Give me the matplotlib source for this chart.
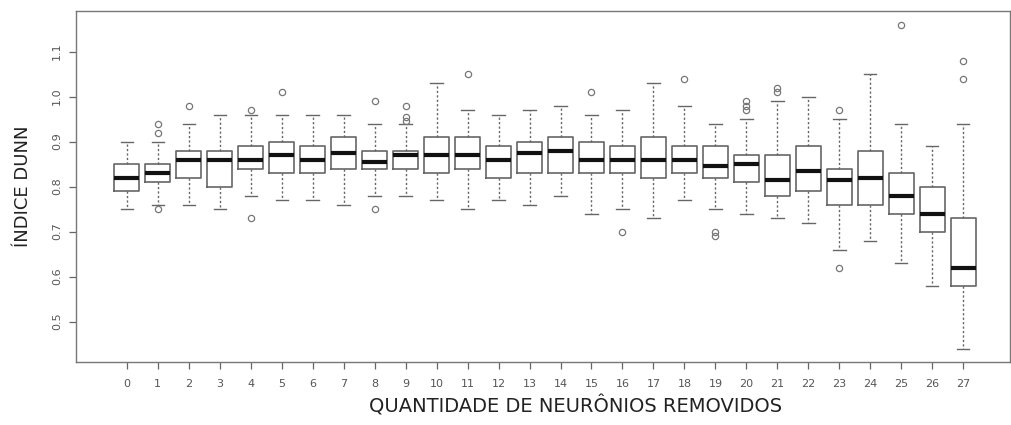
import matplotlib
matplotlib.use("Agg")
import matplotlib.pyplot as plt

plt.rcParams['font.family'] = ['DejaVu Sans']

# Number of removed neurons (one box per count)
removed = list(range(28))

# Dunn index summary statistics for each count
whisker_low = [0.75, 0.76, 0.76, 0.75, 0.78, 0.77, 0.77, 0.76, 0.78, 0.78,
               0.77, 0.75, 0.77, 0.76, 0.78, 0.74, 0.75, 0.73, 0.77, 0.75,
               0.74, 0.73, 0.72, 0.66, 0.68, 0.63, 0.58, 0.44]
q1 = [0.79, 0.81, 0.82, 0.80, 0.84, 0.83, 0.83, 0.84, 0.84, 0.84,
      0.83, 0.84, 0.82, 0.83, 0.83, 0.83, 0.83, 0.82, 0.83, 0.82,
      0.81, 0.78, 0.79, 0.76, 0.76, 0.74, 0.70, 0.58]
median = [0.82, 0.83, 0.86, 0.86, 0.86, 0.87, 0.86, 0.875, 0.855, 0.87,
          0.87, 0.87, 0.86, 0.875, 0.88, 0.86, 0.86, 0.86, 0.86, 0.845,
          0.85, 0.815, 0.835, 0.815, 0.82, 0.78, 0.74, 0.62]
q3 = [0.85, 0.85, 0.88, 0.88, 0.89, 0.90, 0.89, 0.91, 0.88, 0.88,
      0.91, 0.91, 0.89, 0.90, 0.91, 0.90, 0.89, 0.91, 0.89, 0.89,
      0.87, 0.87, 0.89, 0.84, 0.88, 0.83, 0.80, 0.73]
whisker_high = [0.90, 0.90, 0.94, 0.96, 0.96, 0.96, 0.96, 0.96, 0.94, 0.94,
                1.03, 0.97, 0.96, 0.97, 0.98, 0.96, 0.97, 1.03, 0.98, 0.94,
                0.95, 0.99, 1.00, 0.95, 1.05, 0.94, 0.89, 0.94]
outliers = [[], [0.94, 0.92, 0.75], [0.98], [], [0.97, 0.73], [1.01], [], [],
            [0.99, 0.75], [0.98, 0.955, 0.945], [], [1.05], [], [], [],
            [1.01], [0.70], [], [1.04], [0.70, 0.69], [0.99, 0.98, 0.97],
            [1.02, 1.01], [], [0.97, 0.62], [], [1.16], [], [1.08, 1.04]]

y_ticks = [0.5, 0.6, 0.7, 0.8, 0.9, 1.0, 1.1]
y_tick_labels = ["0.5", "0.6", "0.7", "0.8", "0.9", "1.0", "1.1"]

stats = [dict(whislo=lo, q1=a, med=m, q3=b, whishi=hi, fliers=f)
         for lo, a, m, b, hi, f in zip(whisker_low, q1, median, q3,
                                       whisker_high, outliers)]

W, H = 1012, 425
fig = plt.figure(figsize=(W / 100, H / 100), dpi=100)
ax = fig.add_axes([76 / W, 1 - 362 / H, (1010 - 76) / W, (362 - 11) / H])

edge = '#666666'
ax.bxp(stats, positions=removed, widths=0.8, showfliers=True,
       boxprops=dict(color=edge, linewidth=1.2),
       medianprops=dict(color='#111111', linewidth=3.0),
       whiskerprops=dict(color=edge, linewidth=1.0, linestyle=(0, (1.6, 1.6))),
       capprops=dict(color=edge, linewidth=1.0),
       capwidths=0.4,
       flierprops=dict(marker='o', markersize=4.5, markerfacecolor='none',
                       markeredgecolor='#777777', markeredgewidth=0.9))

ax.set_xlim(-1.64, 28.51)
ax.set_ylim(0.41, 1.19)

ax.set_xticks(removed)
ax.set_xticklabels([str(r) for r in removed])
ax.set_yticks(y_ticks)
ax.set_yticklabels(y_tick_labels, rotation=90, va='center')

ax.tick_params(axis='both', colors='#666666', labelcolor='#555555',
               labelsize=8, length=5, width=0.9)
ax.tick_params(axis='x', pad=7.5)
ax.tick_params(axis='y', pad=5)

for s in ax.spines.values():
    s.set_color('#777777')
    s.set_linewidth(1.0)

fig.text(576 / W, 1 - 406 / H, "QUANTIDADE DE NEURÔNIOS REMOVIDOS",
         ha='center', va='center', fontsize=14, color='#222222')
fig.text(23 / W, 1 - 186 / H, "ÍNDICE DUNN", rotation=90,
         ha='center', va='center', fontsize=13, color='#222222')

fig.savefig("out.png", dpi=100)
